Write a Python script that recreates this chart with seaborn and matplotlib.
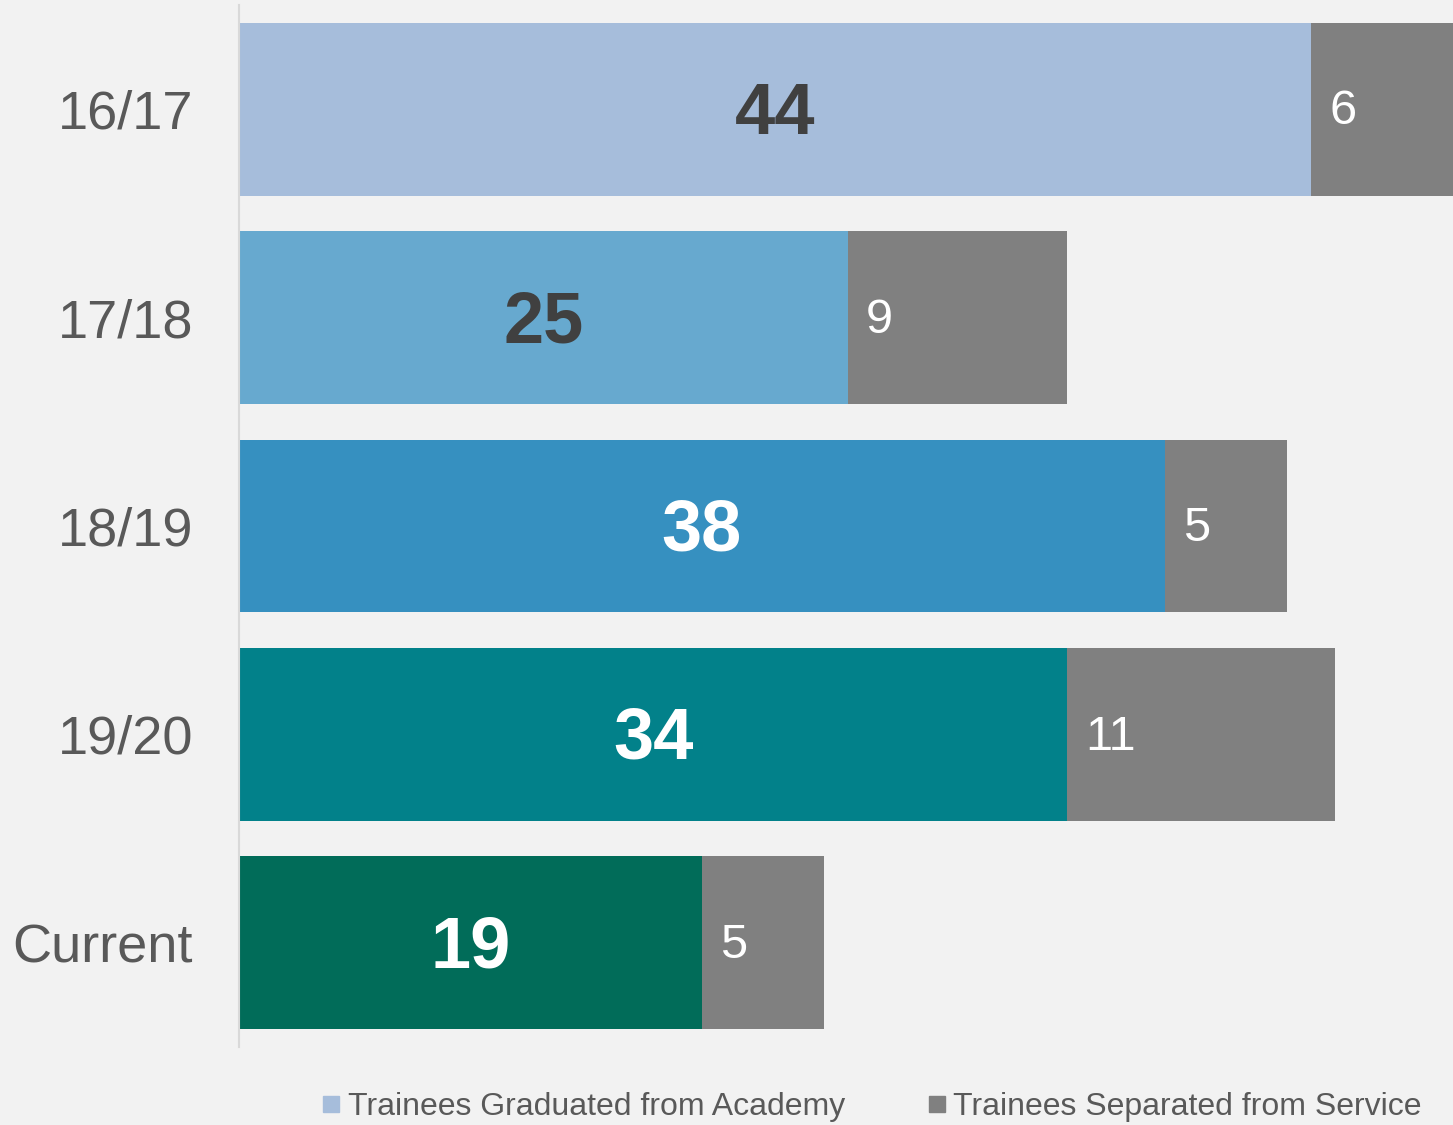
import matplotlib
matplotlib.use('Agg')
import matplotlib.pyplot as plt
import seaborn as sns
import pandas as pd
from matplotlib.lines import Line2D

sns.set_style("white")
plt.rcParams['font.family'] = ['Liberation Sans', 'DejaVu Sans']

# data
years = ['16/17', '17/18', '18/19', '19/20', 'Current']
graduated = [44, 25, 38, 34, 19]
separated = [6, 9, 5, 11, 5]
bar_colors = ['#a6bddb', '#67a9cf', '#3690c0', '#02818a', '#016c59']
label_colors = ['#404040', '#404040', 'white', 'white', 'white']
gray = '#808080'
bg = '#f2f2f2'

df = pd.DataFrame({'year': years, 'graduated': graduated, 'separated': separated})
df['total'] = df['graduated'] + df['separated']

fig = plt.figure(figsize=(14.53, 11.25), dpi=100, facecolor=bg)
ax = fig.add_axes([239 / 1453, 1 - 1047 / 1125, 1 - 239 / 1453, (1047 - 5) / 1125])
ax.set_facecolor(bg)

# separated stacked behind graduated
sns.barplot(data=df, x='total', y='year', color=gray, width=0.83, orient='h',
            saturation=1, linewidth=0, ax=ax)
sns.barplot(data=df, x='graduated', y='year', hue='year', palette=bar_colors,
            width=0.83, orient='h', saturation=1, linewidth=0, legend=False, ax=ax)

for i, row in df.iterrows():
    ax.annotate(str(row['graduated']), xy=(row['graduated'] / 2, i), xytext=(0, -4),
                textcoords='offset points', ha='center', va='center',
                fontsize=52, fontweight='bold', color=label_colors[i])
    ax.annotate(str(row['separated']), xy=(row['graduated'], i), xytext=(13, -2),
                textcoords='offset points', ha='left', va='center',
                fontsize=35, color='white')

ax.set_xlim(0, 49.83)
ax.set_ylim(4.5, -0.5)
ax.set_xlabel('')
ax.set_ylabel('')
ax.set_xticks([])
ax.tick_params(axis='y', length=0, pad=33, labelsize=39, labelcolor='#595959')
for s in ['top', 'right', 'bottom']:
    ax.spines[s].set_visible(False)
ax.spines['left'].set_color('#d9d9d9')
ax.spines['left'].set_linewidth(1.5)

handles = [Line2D([], [], marker='s', linestyle='', markersize=11, color=bar_colors[0]),
           Line2D([], [], marker='s', linestyle='', markersize=11, color=gray)]
fig.legend(handles, ['Trainees Graduated from Academy', 'Trainees Separated from Service'],
           loc='center', bbox_to_anchor=(872 / 1453, 1 - 1107 / 1125), ncol=2,
           frameon=False, fontsize=23, labelcolor='#595959', handlelength=0.55,
           handletextpad=0.25, columnspacing=2.6)

fig.savefig('out.png', dpi=100, facecolor=bg)
